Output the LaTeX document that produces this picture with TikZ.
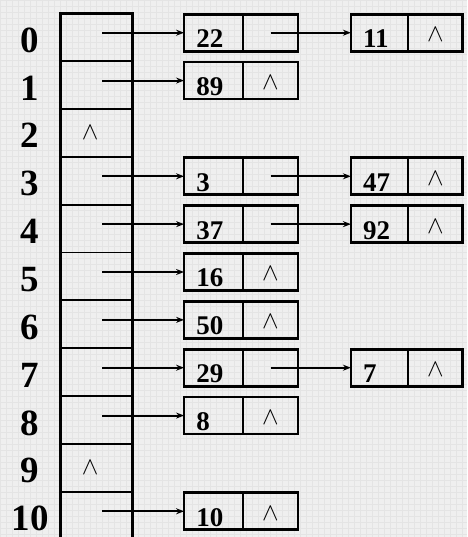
\documentclass[tikz,border=0pt]{standalone}
\usepackage{fontspec}
\setmainfont{Liberation Serif}
\usetikzlibrary{arrows.meta,positioning}
\definecolor{PaperGray}{RGB}{239,239,239}
\definecolor{GridGray}{RGB}{228,228,228}

\begin{document}
\begin{tikzpicture}[x=1pt,y=-1pt,>={Stealth[length=8pt,width=6pt]},node distance=0pt]
\tikzset{slot/.style={draw,line width=1.8pt,minimum width=72pt,minimum height=47.9pt,inner sep=0pt,outer sep=0pt},
  valcell/.style={draw,line width=2.7pt,minimum width=59pt,minimum height=37pt,inner sep=0pt,outer sep=0pt},
  ptrcell/.style={draw,line width=2.7pt,minimum width=55pt,minimum height=37pt,inner sep=0pt,outer sep=0pt,font=\fontsize{26}{26}\selectfont},
  idx/.style={anchor=base,inner sep=0pt,font=\fontsize{37}{37}\selectfont\bfseries},
  val/.style={anchor=base west,inner sep=0pt,font=\fontsize{27}{27}\selectfont\bfseries},
  nil/.style={inner sep=0pt,font=\fontsize{26}{26}\selectfont},
  link/.style={->,line width=2pt}}
% paper
\fill[PaperGray] (0,0) rectangle (467,537);
\draw[GridGray,line width=0.5pt,step=6pt] (0,0) grid (467,537);
\useasboundingbox (0,0) rectangle (467,537);
% hash table
\foreach \i in {0,...,10}{
  \node[slot] (a\i) at (96,{13+47.9*\i+23.95}) {};
  \node[idx] (k\i) at (30,{13+47.9*\i+39}) {\i};
}
\draw[line width=2.8pt] (a0.north west) rectangle (a10.south east);
\node[nil] (n2) at ([xshift=-6pt]a2.center) {$\wedge$};
\node[nil] (n9) at ([xshift=-6pt]a9.center) {$\wedge$};
% first nodes of the chains
\foreach \i/\v in {0/22,1/89,3/3,4/37,5/16,6/50,7/29,8/8,10/10}{
  \node[valcell,anchor=north west] (v\i) at (184,{13+47.9*\i+1}) {};
  \node[ptrcell,right=of v\i] (p\i) {};
  \node[val] (t\i) at ([xshift=12pt,yshift=3.5pt]v\i.south west) {\v};
  \draw[link] (a\i.center) ++(6,-4.45) -- (v\i.west);
}
\foreach \i in {1,5,6,8,10}
  \node[nil] (e\i) at ([yshift=-2pt]p\i.center) {$\wedge$};
% second nodes
\foreach \i/\v in {0/11,3/47,4/92,7/7}{
  \node[valcell,minimum width=57pt,right=53pt of p\i] (w\i) {};
  \node[ptrcell,right=of w\i] (q\i) {};
  \node[nil] (f\i) at ([yshift=-2pt]q\i.center) {$\wedge$};
  \node[val] (u\i) at ([xshift=12pt,yshift=3.5pt]w\i.south west) {\v};
  \draw[link] (p\i.center) -- (w\i.west);
}
\end{tikzpicture}
\end{document}
